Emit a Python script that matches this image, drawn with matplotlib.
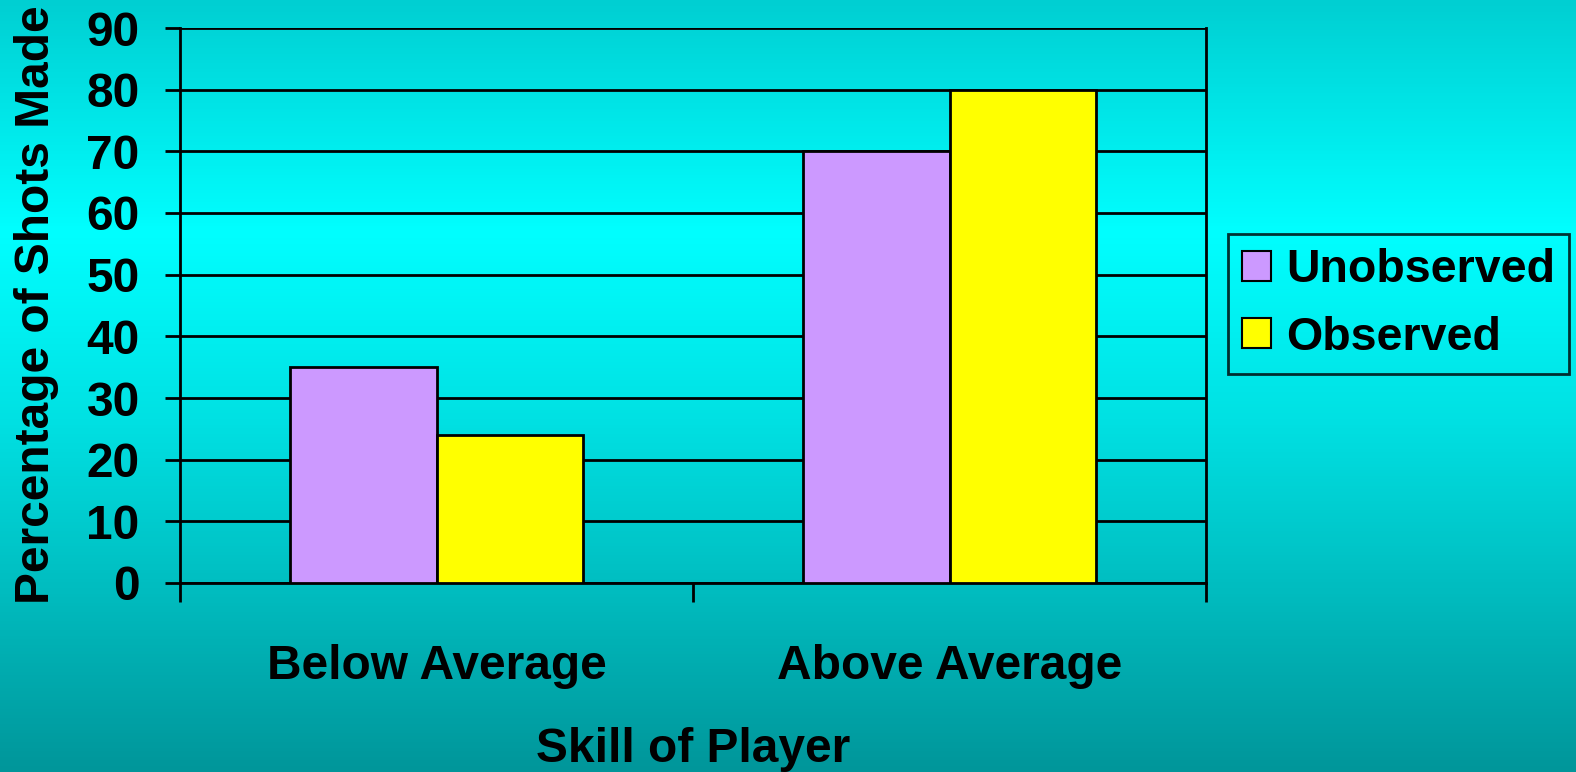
import matplotlib
matplotlib.use("Agg")
import matplotlib.pyplot as plt
import numpy as np
from matplotlib.colors import LinearSegmentedColormap
from matplotlib.patches import Patch

plt.rcParams['font.family'] = ['Liberation Sans', 'DejaVu Sans']
plt.rcParams['font.weight'] = 'bold'
plt.rcParams['axes.labelweight'] = 'bold'

skill = ['Below Average', 'Above Average']
series = ['Unobserved', 'Observed']
unobserved = [35, 70]
observed = [24, 80]
colors = ['#CC99FF', '#FFFF00']

fs = 34.5
lw = 2.0

fig = plt.figure(figsize=(15.76, 7.72), dpi=100)

# slide-style cyan gradient behind everything
bg = fig.add_axes([0, 0, 1, 1], zorder=-10)
grad = LinearSegmentedColormap.from_list(
    'slide', [(0.0, '#00CFD2'), (0.30, '#00FFFF'), (0.55, '#00E0E2'), (1.0, '#00969A')])
bg.imshow(np.linspace(0, 1, 256).reshape(-1, 1), aspect='auto', cmap=grad,
          extent=[0, 1, 0, 1], origin='upper')
bg.set_axis_off()

ax = fig.add_axes([180 / 1576, 1 - 583 / 772, (1206 - 180) / 1576, (583 - 28) / 772])
ax.set_facecolor('none')

x = np.arange(len(skill))
w = 0.285
ax.bar(x - w / 2, unobserved, w, color=colors[0], edgecolor='black', linewidth=lw, zorder=3)
ax.bar(x + w / 2, observed, w, color=colors[1], edgecolor='black', linewidth=lw, zorder=3)

ax.set_xlim(-0.5, 1.5)
ax.set_ylim(0, 90)
ax.set_yticks(range(0, 91, 10))
ax.yaxis.grid(True, color='black', linewidth=lw, zorder=1)
ax.set_axisbelow(True)

for s in ['left', 'right', 'bottom']:
    ax.spines[s].set_linewidth(lw)
ax.spines['top'].set_visible(False)

ax.tick_params(axis='y', length=11, width=lw, pad=18, labelsize=fs)
ax.set_xticks(x)
ax.set_xticklabels(skill, fontsize=fs)
ax.tick_params(axis='x', which='major', length=0, pad=44)
ax.set_xticks([-0.5, 0.5, 1.5], minor=True)
ax.tick_params(axis='x', which='minor', length=14, width=lw)

ax.set_xlabel('Skill of Player', fontsize=fs, labelpad=27, fontweight='bold')
fig.text(37 / 1576, 1 - 305 / 772, 'Percentage of Shots Made', fontsize=fs,
         rotation=90, ha='center', va='center', fontweight='bold')

handles = [Patch(facecolor=c, edgecolor='black', linewidth=1.5) for c in colors]
leg = fig.legend(handles, series, loc='center left', bbox_to_anchor=(1228 / 1576, 1 - 304 / 772),
                 fontsize=33.5, frameon=True, fancybox=False, handlelength=0.62, handleheight=0.62,
                 handletextpad=0.33, labelspacing=0.5, borderpad=0.3, borderaxespad=0)
leg.get_frame().set_facecolor('none')
leg.get_frame().set_edgecolor('black')
leg.get_frame().set_linewidth(lw)

fig.savefig('out.png', dpi=100)
